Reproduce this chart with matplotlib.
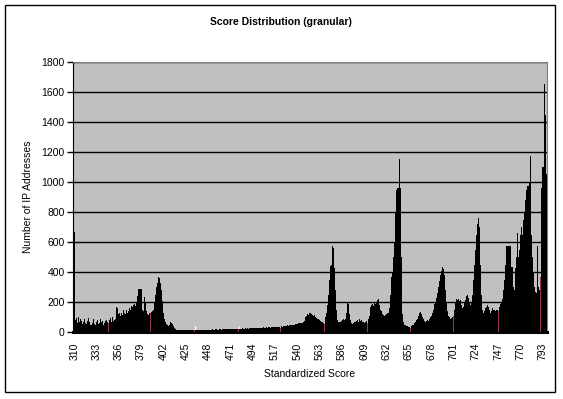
import numpy as np
import matplotlib
matplotlib.use('Agg')
import matplotlib.pyplot as plt
from matplotlib.patches import Rectangle

plt.rcParams['font.family'] = ['Liberation Sans', 'DejaVu Sans']
plt.rcParams['font.size'] = 7.5

# standardized scores, one bar per score
first_score = 310
counts = [
    665, 80, 95, 60, 100, 85, 70, 90, 75, 55,          # 310
    65, 90, 60, 55, 75, 95, 70, 50, 45, 60,            # 320
    85, 55, 50, 65, 80, 55, 60, 90, 70, 75,            # 330
    50, 60, 75, 80, 65, 60, 80, 95, 70, 85,            # 340
    100, 75, 80, 90, 167, 160, 120, 130, 110, 125,     # 350
    115, 145, 130, 120, 150, 125, 140, 160, 150, 175,  # 360
    165, 180, 190, 175, 200, 240, 287, 287, 287, 287,  # 370
    150, 140, 233, 233, 200, 140, 120, 115, 125, 130,  # 380
    135, 140, 150, 200, 250, 300, 330, 367, 360, 330,  # 390
    280, 210, 130, 90, 70, 55, 45, 40, 50, 65,         # 400
    60, 55, 40, 25, 18, 15, 14, 13, 15, 12,            # 410
    14, 13, 15, 12, 14, 16, 13, 12, 14, 15,            # 420
    13, 14, 12, 13, 15, 14, 13, 15, 16, 14,            # 430
    13, 15, 14, 16, 15, 13, 14, 16, 17, 15,            # 440
    14, 16, 15, 17, 16, 15, 17, 18, 16, 15,            # 450
    17, 18, 16, 17, 19, 18, 17, 19, 20, 18,            # 460
    19, 20, 19, 21, 20, 22, 21, 20, 22, 20,            # 470
    21, 23, 22, 21, 24, 22, 23, 25, 22, 24,            # 480
    23, 25, 24, 26, 25, 24, 27, 26, 25, 28,            # 490
    27, 28, 30, 27, 29, 31, 28, 30, 32, 29,            # 500
    31, 33, 30, 32, 34, 31, 33, 35, 32, 34,            # 510
    33, 36, 34, 30, 38, 36, 40, 38, 42, 40,            # 520
    44, 42, 46, 45, 48, 47, 50, 48, 52, 55,            # 530
    53, 58, 60, 57, 63, 60, 65, 75, 85, 100,           # 540
    110, 120, 115, 130, 125, 120, 115, 110, 112, 100,  # 550
    95, 90, 88, 80, 75, 70, 65, 60, 55, 100,           # 560
    130, 180, 250, 350, 440, 450, 573, 560, 430, 280,  # 570
    150, 100, 80, 70, 65, 70, 75, 80, 85, 80,          # 580
    90, 130, 193, 190, 120, 80, 60, 55, 60, 65,        # 590
    70, 75, 80, 70, 85, 75, 80, 65, 70, 60,            # 600
    70, 72, 60, 90, 110, 140, 170, 180, 190, 175,      # 610
    195, 185, 200, 215, 220, 180, 150, 140, 120, 115,  # 620
    110, 115, 120, 125, 130, 160, 250, 370, 400, 500,  # 630
    600, 800, 950, 960, 960, 1153, 960, 500, 250, 120, # 640
    70, 50, 45, 40, 40, 35, 35, 30, 40, 45,            # 650
    50, 60, 70, 80, 90, 110, 125, 133, 120, 100,       # 660
    85, 75, 70, 75, 80, 75, 90, 100, 110, 130,         # 670
    150, 170, 185, 200, 230, 260, 300, 340, 380, 410,  # 680
    433, 420, 380, 280, 200, 140, 110, 100, 90, 95,    # 690
    100, 107, 150, 200, 220, 215, 220, 210, 215, 180,  # 700
    160, 170, 200, 213, 200, 240, 247, 230, 200, 180,  # 710
    200, 250, 350, 450, 550, 650, 720, 760, 700, 450,  # 720
    250, 150, 130, 140, 160, 170, 180, 165, 150, 130,  # 730
    140, 160, 150, 145, 140, 150, 145, 140, 160, 170,  # 740
    190, 200, 220, 280, 350, 450, 573, 573, 573, 573,  # 750
    573, 433, 433, 300, 280, 430, 500, 660, 500, 550,  # 760
    650, 700, 650, 750, 800, 880, 950, 973, 973, 1000, # 770
    1173, 900, 650, 500, 400, 300, 270, 260, 573, 300, # 780
    280, 367, 960, 1100, 1100, 1653, 1447, 1053,       # 790
]
scores = np.arange(first_score, first_score + len(counts))

# bars drawn in the second colour
red_scores = [345, 389, 434, 479, 523, 568, 612, 657, 701, 747, 791]
label_scores = list(range(310, 800, 23))
y_ticks = list(range(0, 1801, 200))

colors = ['#993366' if s in red_scores else 'black' for s in scores]

fig = plt.figure(figsize=(5.63, 3.99), dpi=100)
ax = fig.add_axes([73/563, 1-332/399, 474/563, 270/399])
ax.set_facecolor('#c0c0c0')

ax.bar(scores, counts, width=1.0, color=colors, linewidth=0, zorder=3)

ax.set_xlim(scores[0] - 1.2, scores[-1] + 0.5)
ax.set_ylim(0, 1800)
ax.set_yticks(y_ticks)
ax.yaxis.grid(True, color='black', linewidth=1.0, zorder=1)
ax.set_axisbelow(True)

ax.set_xticks(label_scores)
ax.set_xticklabels([str(s) for s in label_scores], rotation=90)
ax.tick_params(axis='x', length=0, pad=8)
ax.tick_params(axis='y', length=4, width=1, pad=2, direction='out')

ax.set_xticks([s + 1 for s in red_scores], minor=True)
ax.tick_params(axis='x', which='minor', direction='in', length=4, width=1, color='white')

for side in ['top', 'right']:
    ax.spines[side].set_color('#808080')
    ax.spines[side].set_linewidth(0.8)
ax.spines['left'].set_color('black')
ax.spines['bottom'].set_color('black')
ax.spines['bottom'].set_linewidth(2.2)

ax.set_xlabel('Standardized Score', fontsize=7.5, labelpad=6)
ax.set_ylabel('Number of IP Addresses', fontsize=7.5, labelpad=6)
fig.text(281/563, 1-22/399, 'Score Distribution (granular)', ha='center', va='center',
         fontsize=7.5, fontweight='bold')

fig.patches.append(Rectangle((5/563, 1-392/399), 550/563, 387/399, transform=fig.transFigure,
                             fill=False, edgecolor='black', linewidth=1.0))

fig.savefig('out.png', dpi=100)
